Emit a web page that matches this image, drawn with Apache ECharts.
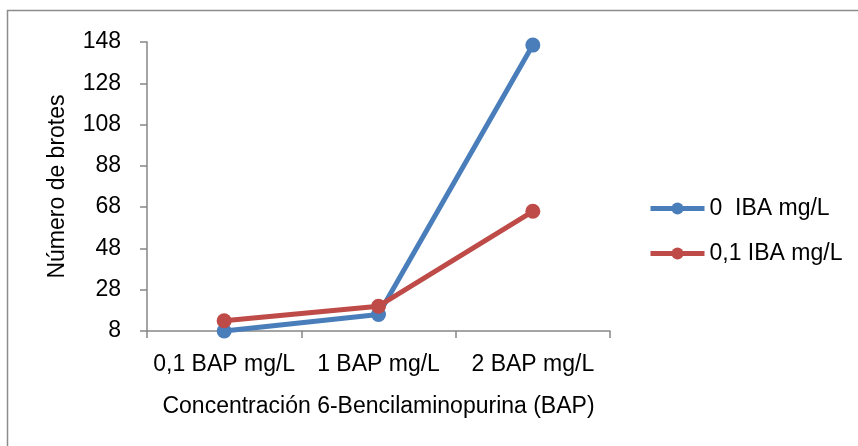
<!DOCTYPE html>
<html>
<head>
<meta charset="utf-8">
<script src="https://cdn.jsdelivr.net/npm/echarts@6/dist/echarts.min.js"></script>
<style>
  html, body { margin: 0; padding: 0; background: #fff; }
  #chart { width: 858px; height: 446px; }
</style>
</head>
<body>
<div id="chart"></div>
<script>
// Concentraciones de BAP (eje de categorías)
const categories = ['0,1 BAP mg/L', '1 BAP mg/L', '2 BAP mg/L'];
// Número de brotes por tratamiento de IBA
const seriesNames = ['0  IBA mg/L', '0,1 IBA mg/L'];
const brotesIBA0 = [8, 16, 146.5];
const brotesIBA01 = [13, 20, 66];
// Escala del eje Y
const yMin = 8;
const yMax = 148;
const yStep = 20;

const FONT = 'Liberation Sans';
const FS = 23;
const axisGray = '#868686';
const colors = ['#4a7ebb', '#be4b48'];

const chart = echarts.init(document.getElementById('chart'), null, { renderer: 'canvas' });

chart.setOption({
  animation: false,
  backgroundColor: '#ffffff',
  textStyle: { fontFamily: FONT, color: '#000' },
  graphic: [{
    type: 'rect',
    shape: { x: 7.5, y: 10.5, width: 900, height: 500 },
    style: { fill: 'none', stroke: '#8c8c8c', lineWidth: 1.5 },
    silent: true,
    z: -1
  }],
  grid: { left: 147, right: 248, top: 42, bottom: 115, containLabel: false },
  legend: {
    orient: 'vertical',
    left: 648,
    top: 197,
    padding: 0,
    itemWidth: 54,
    itemHeight: 15,
    itemGap: 22,
    lineStyle: { width: 5 },
    textStyle: { fontFamily: FONT, fontSize: FS, color: '#000' },
    data: seriesNames
  },
  xAxis: {
    type: 'category',
    data: categories,
    boundaryGap: true,
    name: 'Concentración 6-Bencilaminopurina (BAP)',
    nameLocation: 'middle',
    nameGap: 64,
    nameTextStyle: { fontFamily: FONT, fontSize: FS, color: '#000' },
    axisLine: { lineStyle: { color: axisGray, width: 1.5 } },
    axisTick: { show: true, length: 7, inside: false, lineStyle: { color: axisGray, width: 1.5 } },
    axisLabel: { fontFamily: FONT, fontSize: FS, color: '#000', margin: 22, interval: 0, hideOverlap: false },
    splitLine: { show: false }
  },
  yAxis: {
    type: 'value',
    min: yMin,
    max: yMax,
    interval: yStep,
    name: 'Número de brotes',
    nameLocation: 'middle',
    nameGap: 78,
    nameRotate: 90,
    nameTextStyle: { fontFamily: FONT, fontSize: FS, color: '#000' },
    axisLine: { show: true, lineStyle: { color: axisGray, width: 1.5 } },
    axisTick: { show: true, length: 7, lineStyle: { color: axisGray, width: 1.5 } },
    axisLabel: { fontFamily: FONT, fontSize: FS, color: '#000', margin: 26 },
    splitLine: { show: false }
  },
  series: [
    {
      name: seriesNames[0],
      type: 'line',
      data: brotesIBA0,
      color: colors[0],
      symbol: 'circle',
      symbolSize: 15,
      lineStyle: { width: 5, color: colors[0] },
      itemStyle: { color: colors[0] },
      z: 2
    },
    {
      name: seriesNames[1],
      type: 'line',
      data: brotesIBA01,
      color: colors[1],
      symbol: 'circle',
      symbolSize: 15,
      lineStyle: { width: 5, color: colors[1] },
      itemStyle: { color: colors[1] },
      z: 3
    }
  ]
});
</script>
</body>
</html>
